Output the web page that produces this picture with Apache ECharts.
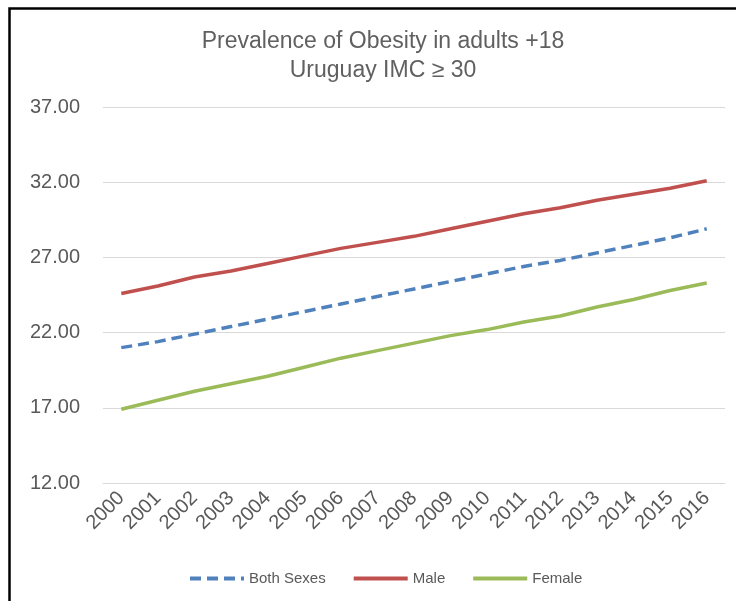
<!DOCTYPE html>
<html>
<head>
<meta charset="utf-8">
<script src="https://cdn.jsdelivr.net/npm/echarts@6/dist/echarts.min.js"></script>
<style>
html,body{margin:0;padding:0;background:#fff;}
#chart{width:736px;height:601px;}
</style>
</head>
<body>
<div id="chart"></div>
<script>
var years = ['2000','2001','2002','2003','2004','2005','2006','2007','2008','2009','2010','2011','2012','2013','2014','2015','2016'];
var bothSexes = [21.0, 21.4, 21.9, 22.4, 22.9, 23.4, 23.9, 24.4, 24.9, 25.4, 25.9, 26.4, 26.8, 27.3, 27.8, 28.3, 28.9];
var male = [24.6, 25.1, 25.7, 26.1, 26.6, 27.1, 27.6, 28.0, 28.4, 28.9, 29.4, 29.9, 30.3, 30.8, 31.2, 31.6, 32.1];
var female = [16.9, 17.5, 18.1, 18.6, 19.1, 19.7, 20.3, 20.8, 21.3, 21.8, 22.2, 22.7, 23.1, 23.7, 24.2, 24.8, 25.3];

var chart = echarts.init(document.getElementById('chart'), null, {renderer: 'canvas'});
var font = 'Liberation Sans, Arial, sans-serif';
chart.setOption({
  animation: false,
  backgroundColor: '#fff',
  title: {
    text: 'Prevalence of Obesity in adults +18\nUruguay IMC \u2265 30',
    left: 378,
    textAlign: 'center',
    top: 22,
    textStyle: {fontFamily: font, fontSize: 23, fontWeight: 'normal', color: '#606060', lineHeight: 29}
  },
  graphic: [{
    type: 'rect',
    shape: {x: 9.5, y: 8.5, width: 900, height: 900},
    style: {fill: 'none', stroke: '#000', lineWidth: 2.5},
    silent: true
  }],
  legend: {
    left: 183,
    top: 566,
    itemWidth: 54,
    itemHeight: 4,
    itemGap: 26,
    itemStyle: {opacity: 0},
    lineStyle: {width: 4},
    textStyle: {fontFamily: font, fontSize: 15, color: '#595959'},
    data: ['Both Sexes', 'Male', 'Female']
  },
  grid: {left: 103, right: 11, top: 107, bottom: 118, containLabel: false},
  xAxis: {
    type: 'category',
    data: years,
    boundaryGap: true,
    axisLine: {show: true, lineStyle: {color: '#d9d9d9', width: 1}},
    axisTick: {show: false},
    axisLabel: {rotate: 45, margin: 12, interval: 0, fontFamily: font, fontSize: 20, color: '#595959'}
  },
  yAxis: {
    type: 'value',
    min: 12, max: 37, interval: 5,
    axisLine: {show: false},
    axisTick: {show: false},
    splitLine: {lineStyle: {color: '#d9d9d9', width: 1}},
    axisLabel: {margin: 23, fontFamily: font, fontSize: 20, color: '#595959',
      formatter: function (v) { return v.toFixed(2); }}
  },
  series: [
    {name: 'Both Sexes', type: 'line', data: bothSexes, symbol: 'none', smooth: false,
     lineStyle: {color: '#4F81BD', width: 3.5, type: [11, 6]}, itemStyle: {color: '#4F81BD'}},
    {name: 'Male', type: 'line', data: male, symbol: 'none',
     lineStyle: {color: '#C0504D', width: 3.5}, itemStyle: {color: '#C0504D'}},
    {name: 'Female', type: 'line', data: female, symbol: 'none',
     lineStyle: {color: '#9BBB59', width: 3.5}, itemStyle: {color: '#9BBB59'}}
  ]
});
</script>
</body>
</html>
